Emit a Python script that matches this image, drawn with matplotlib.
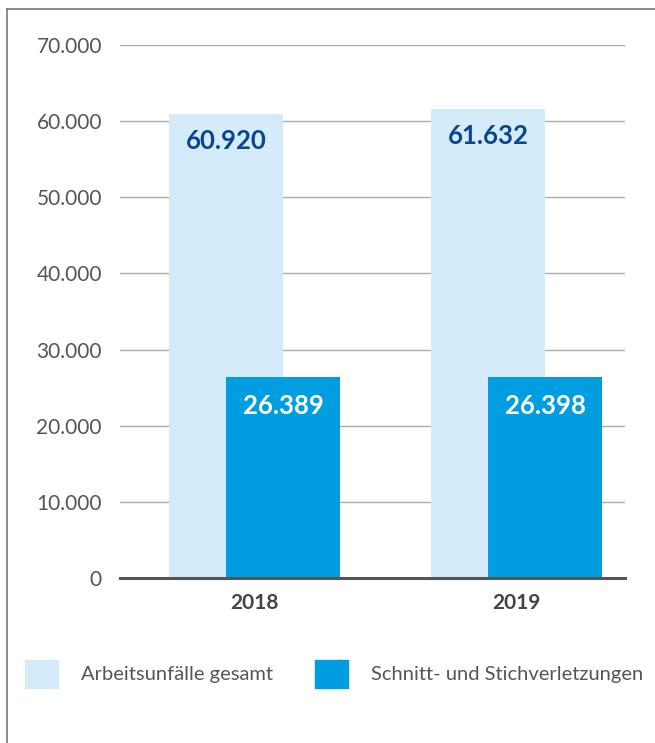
import numpy as np
import matplotlib.pyplot as plt
import matplotlib.lines as mlines
import matplotlib.patches as mpatches

# data
years = ["2018", "2019"]
gesamt = [60920, 61632]
schnitt = [26389, 26398]
gesamt_labels = ["60.920", "61.632"]
schnitt_labels = ["26.389", "26.398"]
yticks = [0, 10000, 20000, 30000, 40000, 50000, 60000, 70000]
ytick_labels = ["0", "10.000", "20.000", "30.000", "40.000", "50.000", "60.000", "70.000"]
legend_names = ["Arbeitsunfälle gesamt", "Schnitt- und Stichverletzungen"]

light = "#d4ecfa"
dark = "#009ee0"
navy = "#0a4590"
grey = "#555555"

plt.rcParams['font.family'] = ['Lato', 'DejaVu Sans']

fig = plt.figure(figsize=(6.55, 7.43), dpi=100)
ax = fig.add_axes([120/655, 1-578/743, (625-120)/655, (578-45)/743])

x = np.arange(len(years))
w = 0.435
off = 0.109
b1 = ax.bar(x - off, gesamt, w, color=light, zorder=2)
b2 = ax.bar(x + off, schnitt, w, color=dark, zorder=3)

for rect, lab in zip(b1, gesamt_labels):
    ax.annotate(lab, (rect.get_x() + rect.get_width()/2, rect.get_height()),
                xytext=(0, -19.5), textcoords="offset points", ha="center", va="center",
                fontsize=18.5, fontweight="bold", color=navy, zorder=4)
for rect, lab in zip(b2, schnitt_labels):
    ax.annotate(lab, (rect.get_x() + rect.get_width()/2, rect.get_height()),
                xytext=(0, -21), textcoords="offset points", ha="center", va="center",
                fontsize=18.5, fontweight="bold", color="white", zorder=4)

ax.set_xlim(-0.513, 1.414)
ax.set_ylim(0, 70000)
ax.set_yticks(yticks)
ax.set_yticklabels(ytick_labels)
ax.set_xticks(x)
ax.set_xticklabels(years, fontweight="bold")
ax.tick_params(axis="y", length=0, pad=13, labelsize=15, labelcolor=grey)
ax.tick_params(axis="x", length=0, pad=11, labelsize=15, labelcolor="#444444")
ax.yaxis.grid(True, color="#aaaaaa", linewidth=1)
ax.set_axisbelow(True)
for s in ["top", "right", "left"]:
    ax.spines[s].set_visible(False)
ax.spines["bottom"].set_color("#555555")
ax.spines["bottom"].set_linewidth(2.2)
ax.spines["bottom"].set_zorder(5)

# legend
handles = [mpatches.Patch(color=light, label=legend_names[0]),
           mpatches.Patch(color=dark, label=legend_names[1])]
leg = fig.legend(handles=handles, loc="upper left", bbox_to_anchor=(25/655, 1-660/743),
                 ncol=2, frameon=False, fontsize=14.5, handlelength=1.64, handleheight=1.74,
                 handletextpad=1.14, columnspacing=2.1, borderpad=0, borderaxespad=0)
for t in leg.get_texts():
    t.set_color(grey)

# frame lines (left and top)
fig.add_artist(mlines.Line2D([7/655, 7/655], [0, 1-9/743], color="#777777", linewidth=1.2))
fig.add_artist(mlines.Line2D([7/655, 1], [1-9/743, 1-9/743], color="#777777", linewidth=1.2))

fig.savefig("out.png", dpi=100)
